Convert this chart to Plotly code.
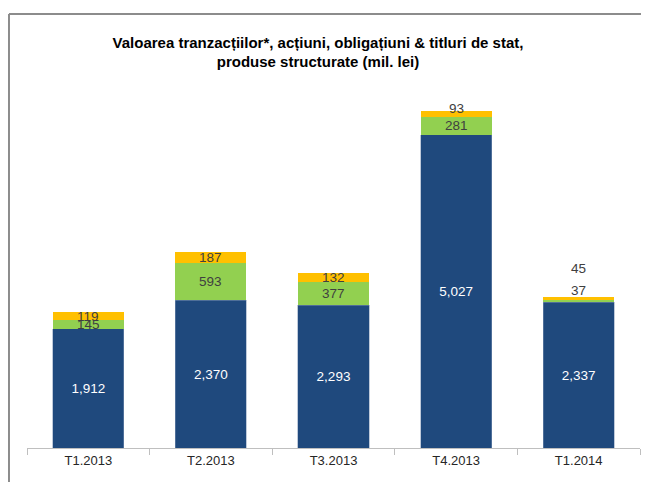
import plotly.graph_objects as go

categories = ["T1.2013", "T2.2013", "T3.2013", "T4.2013", "T1.2014"]
actiuni = [1912, 2370, 2293, 5027, 2337]
obligatiuni = [145, 593, 377, 281, 37]
structurate = [119, 187, 132, 93, 45]

blue = "#1F497D"
green = "#92D050"
yellow = "#FFC000"
txt = "#404040"
font_fam = "Liberation Sans, Arial"

fig = go.Figure()
fig.add_trace(go.Bar(x=categories, y=actiuni, marker_color=blue,
                     marker_line=dict(color="#7F95B5", width=0.5),
                     text=[f"{v:,}" for v in actiuni], textposition="inside",
                     insidetextanchor="middle",
                     textfont=dict(color="white", size=13.5, family=font_fam)))
fig.add_trace(go.Bar(x=categories, y=obligatiuni, marker_color=green, marker_line_width=0))
fig.add_trace(go.Bar(x=categories, y=structurate, marker_color=yellow, marker_line_width=0))

# labels for green / yellow segments
for i, c in enumerate(categories):
    base = actiuni[i]
    g_mid = base + obligatiuni[i] / 2
    y_mid = base + obligatiuni[i] + structurate[i] / 2
    total = base + obligatiuni[i] + structurate[i]
    if i == len(categories) - 1:
        # small segments: labels moved above the bar
        fig.add_annotation(x=c, y=total, text=str(obligatiuni[i]), showarrow=False,
                           yanchor="bottom", yshift=-3,
                           font=dict(color=txt, size=13.5, family=font_fam))
        fig.add_annotation(x=c, y=total, text=str(structurate[i]), showarrow=False,
                           yanchor="bottom", yshift=19,
                           font=dict(color=txt, size=13.5, family=font_fam))
    else:
        fig.add_annotation(x=c, y=g_mid, text=str(obligatiuni[i]), showarrow=False,
                           font=dict(color=txt, size=13.5, family=font_fam))
        fig.add_annotation(x=c, y=y_mid, text=str(structurate[i]), showarrow=False,
                           yshift=6 if i == 3 else 0,
                           font=dict(color=txt, size=13.5, family=font_fam))

# chart frame: only top and left edges are visible
frame = dict(color="#8C8C8C", width=2)
fig.add_shape(type="line", xref="paper", yref="paper",
              x0=-0.0294, x1=1.0016, y0=1.1604, y1=1.1604, line=frame)
fig.add_shape(type="line", xref="paper", yref="paper",
              x0=-0.0294, x1=-0.0294, y0=-0.1, y1=1.1604, line=frame)

fig.update_layout(
    width=633, height=474,
    barmode="stack", bargap=0.42,
    showlegend=False,
    plot_bgcolor="white", paper_bgcolor="white",
    margin=dict(l=19, r=1, t=66, b=34),
    title=dict(text="<b>Valoarea tranzacțiilor*, acțiuni, obligațiuni & titluri de stat,<br>produse structurate (mil. lei)</b>",
               x=(318 - 8 - 19) / 613, xref="paper", xanchor="center", y=1 - 39.5 / 474, yanchor="middle",
               font=dict(size=15, color="#000000", family=font_fam)),
    font=dict(family=font_fam, color=txt),
)
fig.update_xaxes(showline=True, linecolor="#BFBFBF", linewidth=1,
                 ticks="outside", tickson="boundaries", ticklen=6, tickcolor="#BFBFBF",
                 tickfont=dict(size=13, color="#262626", family=font_fam))
fig.update_yaxes(range=[0, 6000], visible=False, showgrid=False)

fig.write_html("out.html")
